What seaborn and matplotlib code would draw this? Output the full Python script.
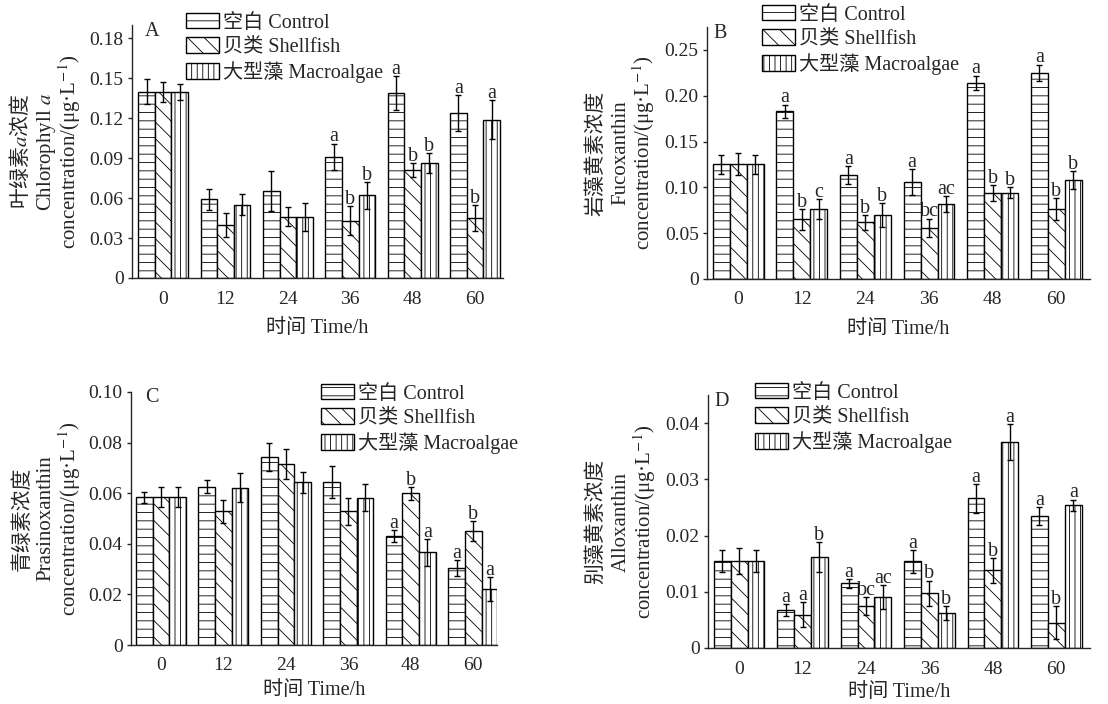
import matplotlib.pyplot as plt
import pandas as pd
import seaborn as sns
from matplotlib.patches import Patch
from matplotlib.ticker import FuncFormatter

W, H = 1108, 704

TIMES = ["0", "12", "24", "36", "48", "60"]
GROUPS = ["空白 Control", "贝类 Shellfish", "大型藻 Macroalgae"]
HATCHES = ["--", "\\\\", "|||"]

# A: chlorophyll a
CHLA_CONTROL = [0.140, 0.059, 0.065, 0.091, 0.139, 0.124]
CHLA_SHELL = [0.140, 0.040, 0.046, 0.043, 0.081, 0.045]
CHLA_MACRO = [0.140, 0.055, 0.046, 0.062, 0.086, 0.119]
CHLA_CONTROL_SD = [0.0095, 0.008, 0.015, 0.010, 0.0125, 0.0135]
CHLA_SHELL_SD = [0.0075, 0.009, 0.007, 0.011, 0.005, 0.010]
CHLA_MACRO_SD = [0.006, 0.008, 0.0105, 0.010, 0.0075, 0.0148]
CHLA_CONTROL_SIG = ["", "", "", "a", "a", "a"]
CHLA_SHELL_SIG = ["", "", "", "b", "b", "b"]
CHLA_MACRO_SIG = ["", "", "", "b", "b", "a"]

# B: fucoxanthin
FUCO_CONTROL = [0.125, 0.183, 0.113, 0.106, 0.214, 0.225]
FUCO_SHELL = [0.125, 0.065, 0.062, 0.056, 0.094, 0.076]
FUCO_MACRO = [0.125, 0.076, 0.070, 0.082, 0.094, 0.108]
FUCO_CONTROL_SD = [0.0105, 0.0074, 0.0098, 0.014, 0.008, 0.009]
FUCO_SHELL_SD = [0.012, 0.011, 0.008, 0.010, 0.009, 0.012]
FUCO_MACRO_SD = [0.0105, 0.011, 0.013, 0.009, 0.006, 0.010]
FUCO_CONTROL_SIG = ["", "a", "a", "a", "a", "a"]
FUCO_SHELL_SIG = ["", "b", "b", "bc", "b", "b"]
FUCO_MACRO_SIG = ["", "c", "b", "ac", "b", "b"]

# C: prasinoxanthin
PRAS_CONTROL = [0.0584, 0.0626, 0.0743, 0.0645, 0.0430, 0.0304]
PRAS_SHELL = [0.0584, 0.0528, 0.0716, 0.0529, 0.0599, 0.0451]
PRAS_MACRO = [0.0584, 0.0621, 0.0643, 0.0582, 0.0367, 0.0221]
PRAS_CONTROL_SD = [0.0021, 0.0027, 0.0057, 0.0063, 0.0024, 0.0032]
PRAS_SHELL_SD = [0.0040, 0.0047, 0.0058, 0.0054, 0.0024, 0.0039]
PRAS_MACRO_SD = [0.0040, 0.0057, 0.0042, 0.0054, 0.0053, 0.0049]
PRAS_CONTROL_SIG = ["", "", "", "", "a", "a"]
PRAS_SHELL_SIG = ["", "", "", "", "b", "b"]
PRAS_MACRO_SIG = ["", "", "", "", "a", "a"]

# D: alloxanthin
ALLO_CONTROL = [0.0155, 0.0068, 0.0115, 0.0154, 0.0266, 0.0235]
ALLO_SHELL = [0.0155, 0.0059, 0.0075, 0.0097, 0.0138, 0.0045]
ALLO_MACRO = [0.0155, 0.0162, 0.0091, 0.0062, 0.0366, 0.0254]
ALLO_CONTROL_SD = [0.0020, 0.0011, 0.0008, 0.0020, 0.0025, 0.0016]
ALLO_SHELL_SD = [0.0023, 0.0022, 0.0016, 0.0023, 0.0022, 0.0029]
ALLO_MACRO_SD = [0.0019, 0.0026, 0.0021, 0.0012, 0.0032, 0.0010]
ALLO_CONTROL_SIG = ["", "a", "a", "a", "a", "a"]
ALLO_SHELL_SIG = ["", "a", "bc", "b", "b", "b"]
ALLO_MACRO_SIG = ["", "b", "ac", "b", "a", "a"]

UNIT = "concentration/(μg·L$^{-1}$)"

FS = 14.5       # legend, x label, letters
FS_TICK = 14
FS_YLAB = 15
SERIF = "Liberation Serif"
CJK = "Noto Sans CJK SC"


def setup_style():
    sns.set_style("ticks")
    plt.rcParams["font.family"] = [SERIF, CJK]
    plt.rcParams["mathtext.fontset"] = "stix"
    plt.rcParams["hatch.linewidth"] = 0.6
    plt.rcParams["axes.linewidth"] = 1.0


def px_rect(left, top, right, bottom):
    return [left / W, 1 - bottom / H, (right - left) / W, (bottom - top) / H]


def draw_panel(fig, rect, means, sds, sigs, ylim, yticks, xlim, ylabel, label_x,
               letter, letter_xy, legend_xy, xlabelpad=8):
    ax = fig.add_axes(rect)
    df = pd.DataFrame({
        "time": TIMES * 3,
        "group": [g for g in GROUPS for _ in TIMES],
        "value": means[0] + means[1] + means[2],
    })
    sns.barplot(data=df, x="time", y="value", hue="group", order=TIMES, hue_order=GROUPS,
                palette=["white"] * 3, edgecolor="black", linewidth=1.0, errorbar=None,
                width=0.8, legend=False, ax=ax)

    for cont, hatch, sd, sig in zip(ax.containers, HATCHES, sds, sigs):
        xs, tops = [], []
        for bar in cont:
            bar.set_hatch(hatch)
            xs.append(bar.get_x() + bar.get_width() / 2)
            tops.append(bar.get_height())
        ax.errorbar(xs, tops, yerr=sd, fmt="none", ecolor="black", elinewidth=1.0,
                    capsize=2.5, capthick=1.0, zorder=5)
        for x, t, s, lab in zip(xs, tops, sd, sig):
            if lab:
                ax.annotate(lab, (x, t + s), xytext=(0, 1.5), textcoords="offset points",
                            ha="center", va="baseline", fontsize=FS, family=SERIF,
                            annotation_clip=False)

    ax.set_xlim(*xlim)
    ax.set_ylim(*ylim)
    ax.set_yticks(yticks)
    ax.yaxis.set_major_formatter(FuncFormatter(lambda v, _: "0" if abs(v) < 1e-12 else f"{v:.2f}"))
    ax.tick_params(axis="x", length=0, pad=9, labelsize=FS_TICK)
    ax.tick_params(axis="y", direction="out", length=3, width=1, pad=3, labelsize=FS_TICK)
    ax.set_xlabel("时间 Time/h", fontsize=FS, labelpad=xlabelpad)
    ax.set_ylabel("")
    sns.despine(ax=ax)

    yc = rect[1] + rect[3] / 2
    for text, xp in zip(ylabel, label_x):
        fam = CJK if any(ord(c) > 0x3000 for c in text) else SERIF
        fig.text(xp / W, yc, text, rotation=90, ha="center", va="center",
                 fontsize=FS_YLAB, family=fam)

    fig.text(letter_xy[0] / W, 1 - letter_xy[1] / H, letter, ha="center", va="center",
             fontsize=FS, family=SERIF)

    handles = [Patch(facecolor="white", edgecolor="black", hatch=h, linewidth=1.0) for h in HATCHES]
    ax.legend(handles, GROUPS, loc="upper left",
              bbox_to_anchor=(legend_xy[0] / W, 1 - legend_xy[1] / H),
              bbox_transform=fig.transFigure, frameon=False, borderpad=0, borderaxespad=0,
              handlelength=1.65, handleheight=0.8, handletextpad=0.2, labelspacing=0.22,
              fontsize=FS)
    return ax


def main():
    setup_style()
    fig = plt.figure(figsize=(W / 100, H / 100), dpi=100)

    draw_panel(fig, px_rect(132, 25, 503, 278),
               [CHLA_CONTROL, CHLA_SHELL, CHLA_MACRO],
               [CHLA_CONTROL_SD, CHLA_SHELL_SD, CHLA_MACRO_SD],
               [CHLA_CONTROL_SIG, CHLA_SHELL_SIG, CHLA_MACRO_SIG],
               (0, 0.19), [0, 0.03, 0.06, 0.09, 0.12, 0.15, 0.18], (-0.5, 5.45),
               ["叶绿素$a$浓度", "Chlorophyll $a$", UNIT], [20, 46, 70],
               "A", (152, 32), (186, 13))

    draw_panel(fig, px_rect(707, 27, 1090, 279),
               [FUCO_CONTROL, FUCO_SHELL, FUCO_MACRO],
               [FUCO_CONTROL_SD, FUCO_SHELL_SD, FUCO_MACRO_SD],
               [FUCO_CONTROL_SIG, FUCO_SHELL_SIG, FUCO_MACRO_SIG],
               (0, 0.275), [0, 0.05, 0.10, 0.15, 0.20, 0.25], (-0.49, 5.53),
               ["岩藻黄素浓度", "Fucoxanthin", UNIT], [595, 621, 644],
               "B", (720, 33), (762, 5))

    draw_panel(fig, px_rect(131, 392, 497, 645),
               [PRAS_CONTROL, PRAS_SHELL, PRAS_MACRO],
               [PRAS_CONTROL_SD, PRAS_SHELL_SD, PRAS_MACRO_SD],
               [PRAS_CONTROL_SIG, PRAS_SHELL_SIG, PRAS_MACRO_SIG],
               (0, 0.10), [0, 0.02, 0.04, 0.06, 0.08, 0.10], (-0.48, 5.38),
               ["青绿素浓度", "Prasinoxanthin", UNIT], [22, 46, 70],
               "C", (152, 398), (321, 384), xlabelpad=5)

    draw_panel(fig, px_rect(708, 395, 1090, 648),
               [ALLO_CONTROL, ALLO_SHELL, ALLO_MACRO],
               [ALLO_CONTROL_SD, ALLO_SHELL_SD, ALLO_MACRO_SD],
               [ALLO_CONTROL_SIG, ALLO_SHELL_SIG, ALLO_MACRO_SIG],
               (0, 0.045), [0, 0.01, 0.02, 0.03, 0.04], (-0.49, 5.53),
               ["别藻黄素浓度", "Alloxanthin", UNIT], [595, 621, 645],
               "D", (722, 402), (755, 383), xlabelpad=4)

    fig.savefig("out.png", dpi=100, facecolor="white")
    plt.close(fig)


if __name__ == "__main__":
    main()
